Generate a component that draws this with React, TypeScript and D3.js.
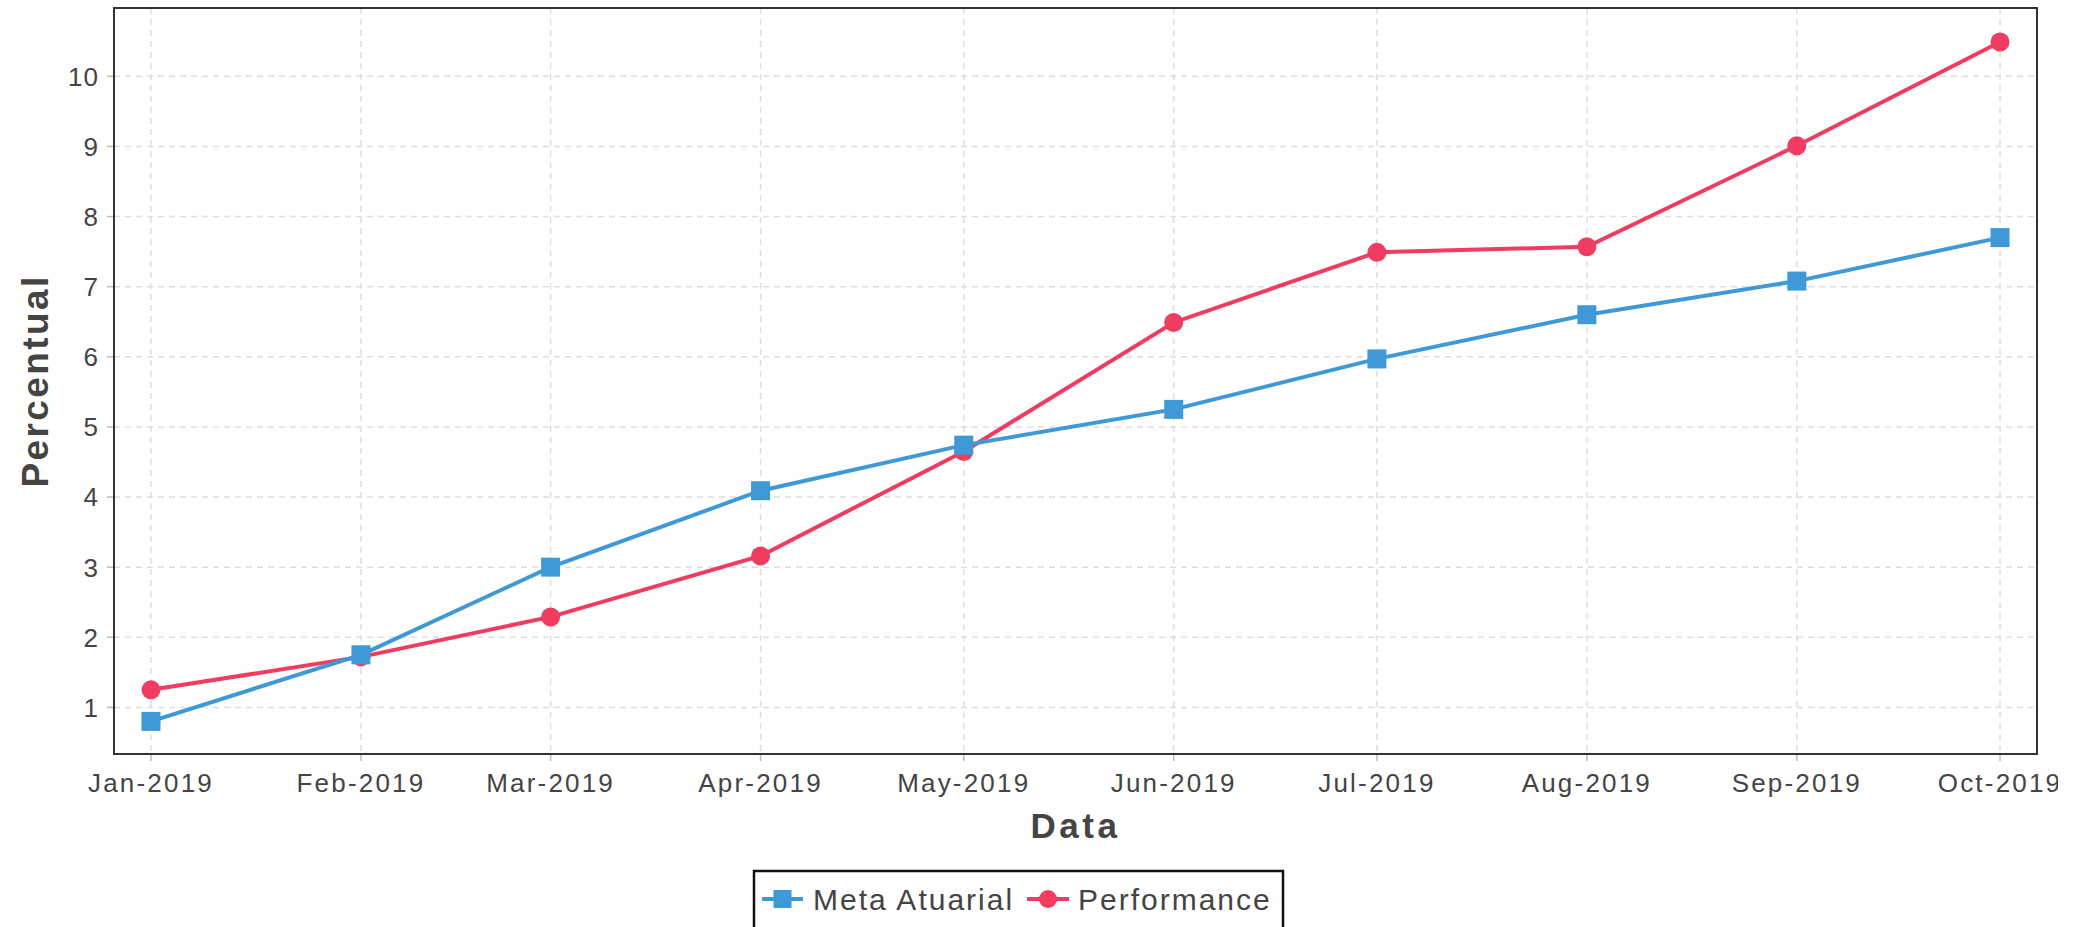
import React from "react";
import * as d3 from "d3";

// months shown on the x axis
const monthLabels = [
  "Jan-2019", "Feb-2019", "Mar-2019", "Apr-2019", "May-2019",
  "Jun-2019", "Jul-2019", "Aug-2019", "Sep-2019", "Oct-2019",
];

// values (percent)
const metaAtuarial = [0.8, 1.75, 3.0, 4.09, 4.74, 5.25, 5.97, 6.6, 7.08, 7.7];
const performance = [1.25, 1.72, 2.29, 3.16, 4.65, 6.49, 7.49, 7.57, 9.01, 10.49];

const yTicks = [1, 2, 3, 4, 5, 6, 7, 8, 9, 10];

const W = 2085;
const H = 927;
const margin = { top: 8, right: 48, bottom: 173, left: 114 };

const BLUE = "#3e99d6";
const RED = "#f03c61";
const FONT = "'Liberation Sans', Arial, sans-serif";

const dates = monthLabels.map((_, i) => new Date(Date.UTC(2019, i, 1)));
const DAY = 24 * 3600 * 1000;

export default function App() {
  const x = d3
    .scaleUtc()
    .domain([
      new Date(+dates[0] - 5.46 * DAY),
      new Date(+dates[dates.length - 1] + 5.46 * DAY),
    ])
    .range([margin.left, W - margin.right]);

  const y = d3
    .scaleLinear()
    .domain([0.335, 10.975])
    .range([H - margin.bottom, margin.top]);

  const line = d3
    .line<number>()
    .x((_, i) => x(dates[i]))
    .y((d) => y(d));

  const plotL = margin.left;
  const plotR = W - margin.right;
  const plotT = margin.top;
  const plotB = H - margin.bottom;
  const cx = (plotL + plotR) / 2;
  const cy = (plotT + plotB) / 2;

  return (
    <svg
      width={W}
      height={H}
      style={{ position: "absolute", left: 0, top: 0, background: "#fff" }}
      fontFamily={FONT}
    >
      <defs>
        {/* the original output is cut off a bit before the right edge */}
        <clipPath id="pageClip">
          <rect x={0} y={0} width={2058} height={H} />
        </clipPath>
      </defs>

      {/* grid */}
      <g stroke="#dedede" strokeWidth={1.5} strokeDasharray="6,5">
        {yTicks.map((t) => (
          <line key={"gy" + t} x1={plotL} x2={plotR} y1={y(t)} y2={y(t)} />
        ))}
        {dates.map((d, i) => (
          <line key={"gx" + i} x1={x(d)} x2={x(d)} y1={plotT} y2={plotB} />
        ))}
      </g>

      {/* y axis ticks + labels */}
      <g>
        {yTicks.map((t) => (
          <g key={"yt" + t}>
            <line x1={plotL - 7} x2={plotL} y1={y(t)} y2={y(t)} stroke="#bbb" strokeWidth={1.5} />
            <text
              x={plotL - 15}
              y={y(t)}
              dy="0.36em"
              textAnchor="end"
              fontSize={26}
              fill="#444"
              letterSpacing={1}
            >
              {t}
            </text>
          </g>
        ))}
      </g>

      {/* x axis ticks + labels */}
      <g clipPath="url(#pageClip)">
        {dates.map((d, i) => (
          <g key={"xt" + i}>
            <line x1={x(d)} x2={x(d)} y1={plotB} y2={plotB + 7} stroke="#bbb" strokeWidth={1.5} />
            <text
              x={x(d)}
              y={plotB + 38}
              textAnchor="middle"
              fontSize={26}
              fill="#444"
              letterSpacing={2.2}
            >
              {monthLabels[i]}
            </text>
          </g>
        ))}
      </g>

      {/* series: red first, blue on top */}
      <path d={line(performance) || ""} fill="none" stroke={RED} strokeWidth={4} />
      {performance.map((v, i) => (
        <circle key={"pc" + i} cx={x(dates[i])} cy={y(v)} r={9.5} fill={RED} />
      ))}
      <path d={line(metaAtuarial) || ""} fill="none" stroke={BLUE} strokeWidth={4} />
      {metaAtuarial.map((v, i) => (
        <rect
          key={"ms" + i}
          x={x(dates[i]) - 9.5}
          y={y(v) - 9.5}
          width={19}
          height={19}
          fill={BLUE}
        />
      ))}

      {/* frame */}
      <rect
        x={plotL}
        y={plotT}
        width={plotR - plotL}
        height={plotB - plotT}
        fill="none"
        stroke="#333"
        strokeWidth={2}
      />

      {/* axis titles */}
      <text
        x={cx}
        y={838}
        textAnchor="middle"
        fontSize={35}
        fontWeight="bold"
        fill="#444"
        letterSpacing={3.5}
      >
        Data
      </text>
      <text
        transform={`translate(48,${cy}) rotate(-90)`}
        textAnchor="middle"
        fontSize={37}
        fontWeight="bold"
        fill="#444"
        letterSpacing={2.4}
      >
        Percentual
      </text>

      {/* legend */}
      <g>
        <rect x={754} y={871} width={529} height={62} fill="#fff" stroke="#111" strokeWidth={2.5} />
        <line x1={762} x2={803} y1={899} y2={899} stroke={BLUE} strokeWidth={4} />
        <rect x={782.5 - 9} y={899 - 9} width={18} height={18} fill={BLUE} />
        <text x={813} y={910} fontSize={30} fill="#444" letterSpacing={2}>
          Meta Atuarial
        </text>
        <line x1={1027} x2={1069} y1={899} y2={899} stroke={RED} strokeWidth={4} />
        <circle cx={1048} cy={899} r={9} fill={RED} />
        <text x={1078} y={910} fontSize={30} fill="#444" letterSpacing={2}>
          Performance
        </text>
      </g>
    </svg>
  );
}
